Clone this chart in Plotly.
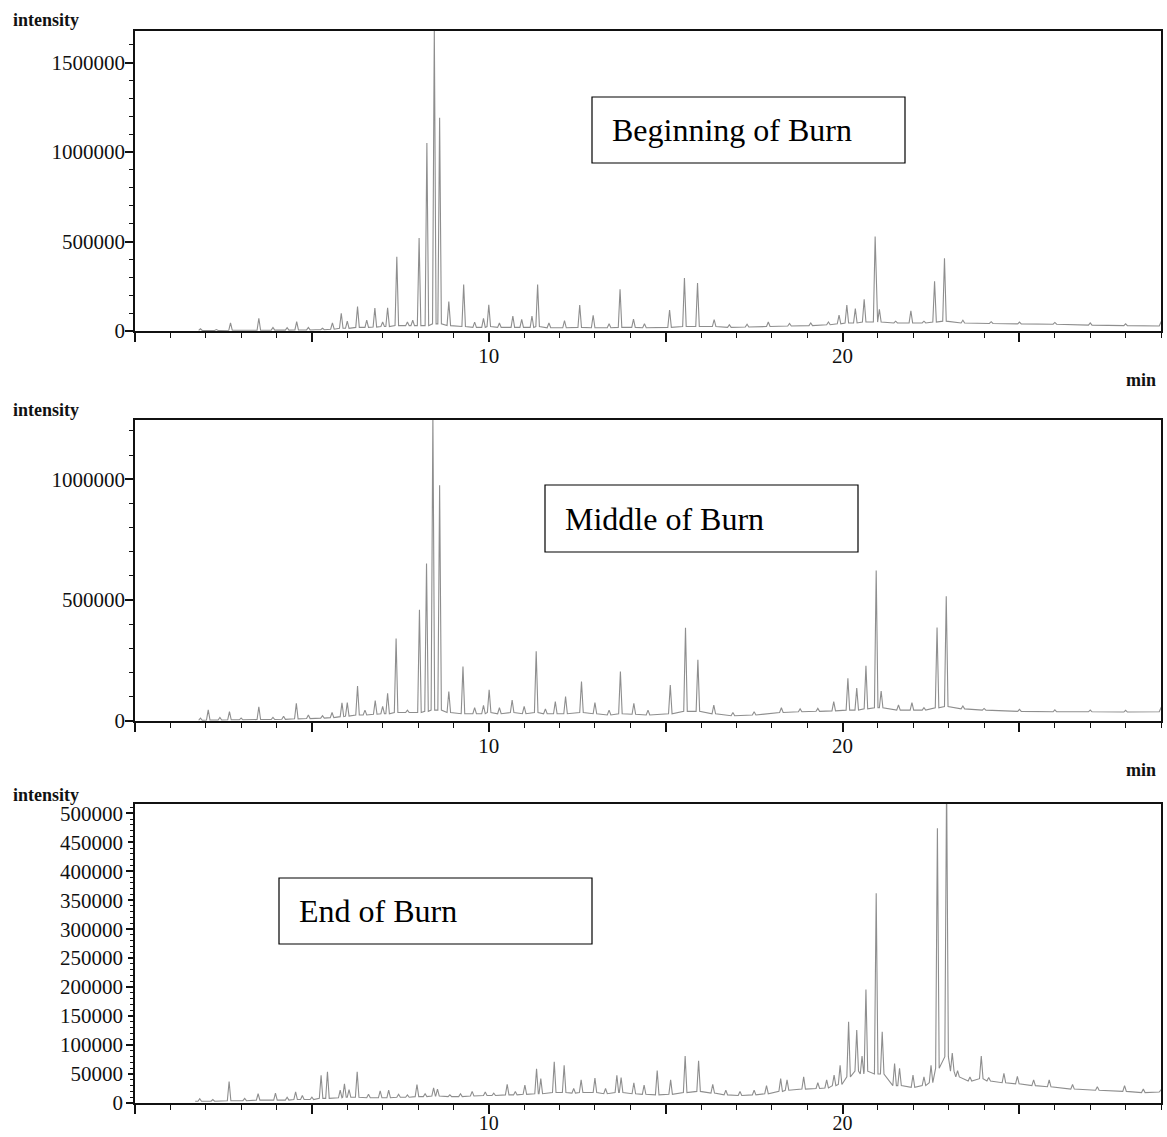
import plotly.graph_objects as go

# ---------------------------------------------------------------------------
# Chromatogram data: peak apex retention time (min), apex intensity and the
# baseline level at the foot of each peak, plus a few plain baseline points.
# ---------------------------------------------------------------------------

# Beginning of burn
beg_rt = [1.85, 2.3, 2.7, 3.5, 3.9, 4.3, 4.57, 4.9, 5.3, 5.58, 5.83, 6.0, 6.29, 6.55,
          6.78, 7.0, 7.14, 7.40, 7.7, 7.85, 8.03, 8.25, 8.46, 8.61, 8.87, 9.29, 9.6,
          9.85, 10.0, 10.3, 10.68, 10.93, 11.22, 11.38, 11.7, 12.14, 12.57, 12.95,
          13.4, 13.71, 14.09, 14.4, 15.11, 15.53, 15.9, 16.37, 16.8, 17.3, 17.9, 18.5,
          19.1, 19.6, 19.9, 20.12, 20.36, 20.61, 20.92, 21.04, 21.5, 21.93, 22.3, 22.6,
          22.88, 23.4, 24.2, 25.0, 26.0, 27.0, 28.0]
beg_int = [12000, 8000, 46000, 71000, 20000, 18000, 52000, 20000, 15000, 45000, 99000,
           55000, 136000, 61000, 128000, 50000, 130000, 415000, 50000, 60000, 519000,
           1050000, 1700000, 1192000, 164000, 260000, 50000, 70000, 147000, 45000,
           84000, 65000, 84000, 260000, 45000, 58000, 145000, 88000, 40000, 233000,
           66000, 40000, 117000, 296000, 268000, 63000, 35000, 38000, 50000, 42000,
           45000, 50000, 89000, 145000, 125000, 177000, 528000, 121000, 55000, 113000,
           55000, 278000, 406000, 60000, 52000, 50000, 48000, 45000, 40000]
beg_foot = [3000, 3000, 4000, 4000, 5000, 5000, 6000, 6000, 7000, 10000, 15000, 15000,
            20000, 20000, 22000, 25000, 25000, 30000, 30000, 30000, 30000, 30000, 40000,
            40000, 30000, 25000, 20000, 20000, 25000, 20000, 20000, 20000, 20000, 25000,
            18000, 18000, 20000, 18000, 18000, 20000, 20000, 18000, 20000, 25000, 25000,
            25000, 20000, 22000, 25000, 28000, 30000, 35000, 40000, 45000, 45000, 50000,
            50000, 50000, 45000, 45000, 45000, 50000, 55000, 45000, 42000, 40000, 38000,
            33000, 30000]
beg_base_rt = [1.80, 3.2, 5.1, 16.6, 24.6, 28.5, 28.95, 29.05]
beg_base_int = [3000, 4000, 7000, 22000, 42000, 30000, 28000, 72000]

# Middle of burn
mid_rt = [1.85, 2.07, 2.4, 2.67, 3.0, 3.5, 3.9, 4.2, 4.56, 4.9, 5.3, 5.57, 5.85, 6.0,
          6.29, 6.5, 6.79, 7.0, 7.14, 7.38, 7.7, 8.04, 8.24, 8.42, 8.61, 8.87, 9.27,
          9.6, 9.85, 10.01, 10.3, 10.66, 11.0, 11.34, 11.6, 11.88, 12.17, 12.62, 13.0,
          13.4, 13.72, 14.1, 14.5, 15.13, 15.56, 15.91, 16.36, 16.9, 17.5, 18.27, 18.8,
          19.3, 19.75, 20.15, 20.4, 20.66, 20.95, 21.09, 21.58, 21.96, 22.3, 22.67,
          22.93, 23.4, 24.0, 25.0, 26.0, 27.0, 28.0]
mid_int = [12000, 46000, 15000, 39000, 12000, 59000, 15000, 20000, 73000, 25000, 22000,
           35000, 75000, 76000, 145000, 45000, 84000, 60000, 115000, 341000, 45000,
           460000, 651000, 1270000, 975000, 122000, 225000, 55000, 65000, 129000, 55000,
           87000, 60000, 288000, 50000, 80000, 101000, 163000, 76000, 45000, 205000,
           73000, 45000, 149000, 386000, 253000, 66000, 35000, 38000, 55000, 50000,
           52000, 80000, 177000, 136000, 228000, 622000, 124000, 66000, 76000, 55000,
           387000, 516000, 62000, 52000, 48000, 46000, 45000, 44000]
mid_foot = [3000, 4000, 4000, 5000, 5000, 6000, 6000, 7000, 9000, 10000, 12000, 14000,
            18000, 20000, 25000, 25000, 28000, 30000, 30000, 35000, 35000, 35000, 40000,
            45000, 45000, 35000, 30000, 30000, 30000, 35000, 30000, 35000, 30000, 35000,
            30000, 30000, 30000, 35000, 30000, 25000, 30000, 28000, 25000, 30000, 40000,
            40000, 30000, 22000, 25000, 35000, 38000, 40000, 42000, 45000, 45000, 50000,
            55000, 55000, 45000, 45000, 45000, 55000, 60000, 50000, 45000, 40000, 38000,
            38000, 37000]
mid_base_rt = [1.80, 3.2, 16.6, 28.5, 28.95, 29.05]
mid_base_int = [3000, 5000, 26000, 37000, 38000, 70000]

# End of burn
end_rt = [1.83, 2.2, 2.66, 3.1, 3.48, 3.97, 4.3, 4.54, 4.73, 5.0, 5.26, 5.44, 5.8, 5.92,
          6.05, 6.28, 6.6, 6.93, 7.17, 7.45, 7.7, 7.97, 8.2, 8.44, 8.55, 8.9, 9.2, 9.53,
          9.9, 10.14, 10.52, 10.75, 11.02, 11.35, 11.47, 11.85, 12.13, 12.4, 12.61,
          13.0, 13.3, 13.62, 13.74, 14.1, 14.39, 14.76, 15.14, 15.55, 15.93, 16.33,
          16.7, 17.1, 17.5, 17.85, 18.25, 18.43, 18.9, 19.3, 19.55, 19.76, 19.93, 20.17,
          20.4, 20.55, 20.66, 20.95, 21.12, 21.47, 21.61, 21.99, 22.3, 22.5, 22.68,
          22.94, 23.1, 23.25, 23.6, 23.92, 24.13, 24.56, 24.94, 25.4, 25.84, 26.5,
          27.2, 27.97, 28.5]
end_int = [7500, 6000, 37000, 8000, 16000, 17000, 10000, 19000, 13000, 10000, 48000,
           54000, 22000, 33000, 23000, 54000, 15000, 21000, 22000, 15000, 14000, 32000,
           16000, 26000, 24000, 14000, 16000, 20000, 19000, 17000, 32000, 20000, 31000,
           59000, 42000, 71000, 65000, 25000, 40000, 43000, 25000, 48000, 44000, 35000,
           31000, 56000, 40000, 81000, 73000, 32000, 22000, 20000, 22000, 30000, 42000,
           40000, 45000, 35000, 40000, 48000, 65000, 140000, 126000, 81000, 196000,
           362000, 123000, 68000, 60000, 48000, 45000, 65000, 474000, 560000, 86000,
           56000, 45000, 81000, 44000, 51000, 46000, 40000, 40000, 32000, 28000, 30000,
           24000]
end_foot = [3000, 3000, 4000, 4000, 5000, 5000, 5000, 6000, 6000, 6000, 8000, 8000,
            9000, 10000, 10000, 10000, 9000, 9000, 9000, 10000, 10000, 11000, 11000,
            12000, 12000, 11000, 11000, 12000, 13000, 13000, 14000, 14000, 15000, 16000,
            16000, 18000, 18000, 17000, 18000, 18000, 16000, 18000, 18000, 16000, 15000,
            14000, 15000, 18000, 20000, 17000, 14000, 13000, 14000, 16000, 20000, 22000,
            24000, 25000, 26000, 30000, 32000, 45000, 55000, 50000, 55000, 50000, 50000,
            30000, 30000, 27000, 30000, 35000, 60000, 80000, 55000, 45000, 38000, 42000,
            38000, 35000, 33000, 30000, 28000, 24000, 22000, 20000, 18000]
end_base_rt = [1.70, 28.95, 29.05]
end_base_int = [3000, 19000, 26000]

# Axis tick values and labels
x_tickvals = [0, 5, 10, 15, 20, 25]
x_ticktext = ["", "", "10", "", "20", ""]
beg_yticks = [0, 500000, 1000000, 1500000]
mid_yticks = [0, 500000, 1000000]
end_yticks = [0, 50000, 100000, 150000, 200000, 250000, 300000, 350000, 400000,
              450000, 500000]
end_ymajor = [0, 100000, 200000, 300000, 400000, 500000]

panel_titles = ["Beginning of Burn", "Middle of Burn", "End of Burn"]

# ---------------------------------------------------------------------------
HALF_WIDTH = 0.05  # half width of a peak at its foot, in minutes
SERIF = "Liberation Serif, Times New Roman, serif"
INK = "#111111"
W, H = 1167, 1137


def px_x(v):
    return v / W


def px_y(v):
    return 1 - v / H


def chromatogram(rt, inten, foot, base_rt, base_int):
    """Vertices of the trace: every peak rises from its foot to the apex."""
    pts = list(zip(base_rt, base_int))
    for t, h, f in zip(rt, inten, foot):
        pts += [(t - HALF_WIDTH, f), (t, h), (t + HALF_WIDTH, f)]
    pts.sort(key=lambda p: p[0])
    return [p[0] for p in pts], [p[1] for p in pts]


# panel frames: top and bottom pixel rows
panels = [
    dict(data=(beg_rt, beg_int, beg_foot, beg_base_rt, beg_base_int),
         ymax=1676000, yticks=beg_yticks, minor=100000, top=31, bottom=331,
         standoff=-4, xstandoff=-4, xfont=21),
    dict(data=(mid_rt, mid_int, mid_foot, mid_base_rt, mid_base_int),
         ymax=1245000, yticks=mid_yticks, minor=100000, top=420, bottom=721,
         standoff=-4, xstandoff=-4, xfont=21),
    dict(data=(end_rt, end_int, end_foot, end_base_rt, end_base_int),
         ymax=516000, yticks=end_yticks, minor=10000, top=804, bottom=1103,
         standoff=1, xstandoff=-8, xfont=20),
]

fig = go.Figure()
x_dom = [px_x(135), px_x(1161)]

for i, p in enumerate(panels, start=1):
    xs, ys = chromatogram(*p["data"])
    sfx = "" if i == 1 else str(i)
    fig.add_trace(go.Scatter(
        x=xs, y=ys, mode="lines", xaxis="x" + sfx, yaxis="y" + sfx,
        line=dict(color="#8e8e8e", width=1.1), showlegend=False, hoverinfo="skip"))

    y_dom = [px_y(p["bottom"]), px_y(p["top"])]
    fig.layout["xaxis" + sfx] = dict(
        domain=x_dom, anchor="y" + sfx, range=[0, 29.0], automargin=False,
        showline=True, linecolor=INK, linewidth=1.5, mirror=True,
        ticks="outside", ticklen=9, tickwidth=1.5, tickcolor=INK,
        tickvals=x_tickvals, ticktext=x_ticktext, ticklabelstandoff=p["xstandoff"],
        minor=dict(dtick=1, tick0=0, ticks="outside", ticklen=5, tickwidth=1.2,
                   tickcolor=INK, showgrid=False),
        showgrid=False, zeroline=False,
        tickfont=dict(family=SERIF, size=p["xfont"], color=INK),
    )
    fig.layout["yaxis" + sfx] = dict(
        domain=y_dom, anchor="x" + sfx, range=[0, p["ymax"]], automargin=False,
        showline=True, linecolor=INK, linewidth=1.5, mirror=True,
        ticks="outside", ticklen=8 if i < 3 else 5, tickwidth=1.5, tickcolor=INK,
        tickvals=p["yticks"], ticktext=[str(v) for v in p["yticks"]],
        minor=dict(dtick=p["minor"], tick0=0, ticks="outside",
                   ticklen=4 if i < 3 else 3, tickwidth=1.2, tickcolor=INK,
                   showgrid=False),
        showgrid=False, zeroline=False, ticklabelstandoff=p["standoff"],
        tickfont=dict(family=SERIF, size=21, color=INK),
    )

# longer ticks on the bottom panel at every 100000
fig.layout["yaxis4"] = dict(
    overlaying="y3", anchor="x3", side="left", range=[0, 516000], automargin=False,
    tickvals=end_ymajor, showticklabels=False, ticks="outside", ticklen=8,
    tickwidth=1.5, tickcolor=INK, showgrid=False, zeroline=False, showline=False)
fig.add_trace(go.Scatter(x=[None], y=[None], xaxis="x3", yaxis="y4",
                         showlegend=False, hoverinfo="skip"))

# axis captions
annotations = []
for row in (20, 410, 795):
    annotations.append(dict(
        text="<b>intensity</b>", xref="paper", yref="paper", x=px_x(11),
        y=px_y(row), xanchor="left", yanchor="middle", showarrow=False,
        font=dict(family=SERIF, size=18, color=INK)))
for row in (380, 770):
    annotations.append(dict(
        text="<b>min</b>", xref="paper", yref="paper", x=px_x(1158),
        y=px_y(row), xanchor="right", yanchor="middle", showarrow=False,
        font=dict(family=SERIF, size=18, color=INK)))

# labelled boxes (left, top, right, bottom in pixels)
boxes = [(592, 97, 905, 163), (545, 485, 858, 552), (279, 878, 592, 944)]
shapes = []
for (x0, y0, x1, y1), label in zip(boxes, panel_titles):
    shapes.append(dict(type="rect", xref="paper", yref="paper",
                       x0=px_x(x0), x1=px_x(x1), y0=px_y(y1), y1=px_y(y0),
                       line=dict(color="black", width=1.2), fillcolor="white",
                       layer="above"))
    annotations.append(dict(
        text=label, xref="paper", yref="paper", x=px_x(x0 + 18),
        y=px_y((y0 + y1) / 2), xanchor="left", yanchor="middle", showarrow=False,
        font=dict(family=SERIF, size=32, color="black")))

fig.update_layout(
    width=W, height=H, margin=dict(l=0, r=0, t=0, b=0, autoexpand=False),
    paper_bgcolor="white", plot_bgcolor="white",
    annotations=annotations, shapes=shapes,
)

fig.write_html("out.html")
